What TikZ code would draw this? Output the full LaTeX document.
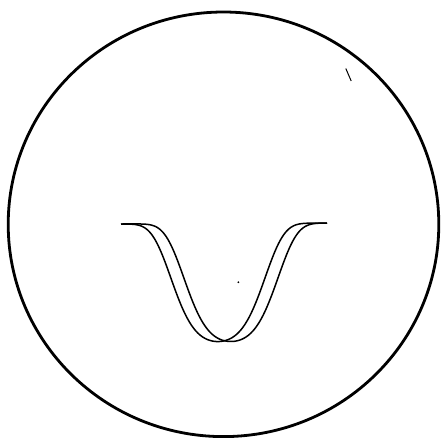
\documentclass[tikz,border=0pt]{standalone}
\begin{document}
\begin{tikzpicture}[x=1pt,y=-1pt,
  rim/.style={line width=2.8pt,black},
  dip/.style={line width=1.5pt,black,line join=round},
  mark stroke/.style={line width=1pt,black}]
\useasboundingbox (0,0) rectangle (441,437);
\fill[white] (0,0) rectangle (441,437);
% outer circle
\draw[rim] (223.5,224.3) ellipse [x radius=215.3, y radius=212.3];
% two shifted dips
\draw[dip] plot[domain=121:327,samples=300,variable=\t]
  (\t,{224-(\t-121)/206+118*exp(-(0.375*((\t-218)/50)^2+0.5625*((\t-218)/50)^4))});
\draw[dip] plot[domain=121:327,samples=300,variable=\t]
  (\t,{224-(\t-121)/206+118*exp(-(0.375*((\t-231)/50)^2+0.5625*((\t-231)/50)^4))});
% small tick mark and dot
\coordinate (tickA) at (345.8,68.5);
\coordinate (tickB) at (351.2,81);
\draw[mark stroke] (tickA) -- (tickB);
\coordinate (speck) at (238.3,282.2);
\fill (speck) circle [radius=1];
\end{tikzpicture}
\end{document}
